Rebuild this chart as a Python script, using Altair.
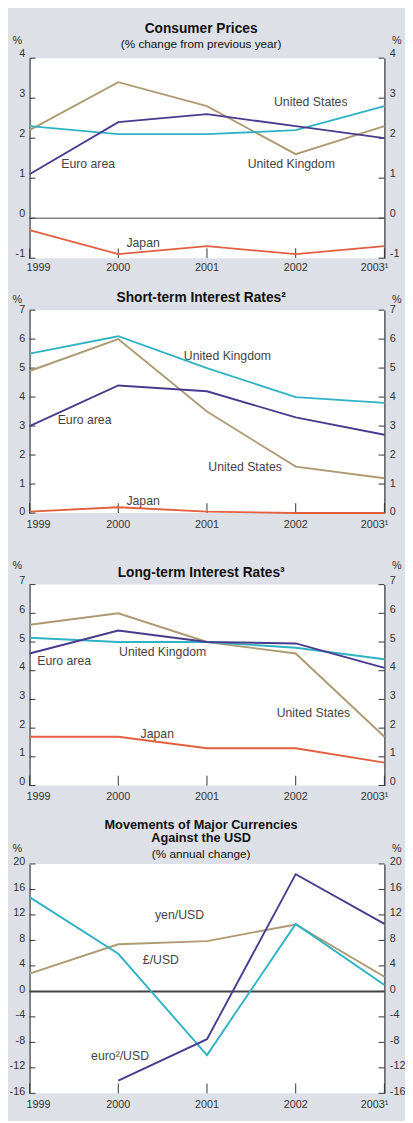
import altair as alt
import pandas as pd

years = [1999, 2000, 2001, 2002, 2003]
year_labels = ["1999", "2000", "2001", "2002", "2003¹"]

# Consumer prices (% change from previous year)
cp_us = [2.2, 3.4, 2.8, 1.6, 2.3]
cp_uk = [2.3, 2.1, 2.1, 2.2, 2.8]
cp_euro = [1.1, 2.4, 2.6, 2.3, 2.0]
cp_japan = [-0.3, -0.9, -0.7, -0.9, -0.7]

# Short-term interest rates
st_us = [4.9, 6.0, 3.5, 1.6, 1.2]
st_uk = [5.5, 6.1, 5.0, 4.0, 3.8]
st_euro = [3.0, 4.4, 4.2, 3.3, 2.7]
st_japan = [0.05, 0.2, 0.05, 0.0, 0.0]

# Long-term interest rates
lt_us = [5.6, 6.0, 5.0, 4.6, 1.7]
lt_uk = [5.15, 5.0, 5.0, 4.8, 4.4]
lt_euro = [4.6, 5.4, 5.0, 4.95, 4.1]
lt_japan = [1.7, 1.7, 1.3, 1.3, 0.8]

# Currencies against the USD (% annual change)
fx_yen = [2.8, 7.4, 7.9, 10.5, 2.3]
fx_gbp = [14.8, 5.9, -10.0, 10.6, 1.0]
fx_euro = [None, -14.0, -7.5, 18.4, 10.6]

ticks_rates = [0, 1, 2, 3, 4, 5, 6, 7]
ticks_cp = [-1, 0, 1, 2, 3, 4]
ticks_fx = [-16, -12, -8, -4, 0, 4, 8, 12, 16, 20]

names4 = ["United States", "United Kingdom", "Euro area", "Japan"]
colors4 = ["#ad9a72", "#2fb3c4", "#4a3a8e", "#e2603f"]
names_fx = ["yen/USD", "£/USD", "euro/USD"]
colors_fx = ["#ad9a72", "#2fb3c4", "#4a3a8e"]

# inline labels: (text, year position, value position)
lab_cp = [("United States", 2002.17, 2.9), ("Euro area", 1999.66, 1.35),
          ("United Kingdom", 2001.95, 1.35), ("Japan", 2000.28, -0.63)]
lab_st = [("United Kingdom", 2001.23, 5.41), ("Euro area", 1999.62, 3.21),
          ("United States", 2001.43, 1.59), ("Japan", 2000.28, 0.41)]
lab_lt = [("Euro area", 1999.39, 4.34), ("United Kingdom", 2000.50, 4.64),
          ("United States", 2002.20, 2.53), ("Japan", 2000.44, 1.81)]
lab_fx = [("yen/USD", 2000.69, 11.9), ("£/USD", 2000.48, 4.84),
          ("euro²/USD", 2000.02, -10.17)]

# panel titles: (text, size, weight, offset above plot top)
ttl_cp = [("Consumer Prices", 14, "bold", -30),
          ("(% change from previous year)", 12, "normal", -14)]
ttl_st = [("Short-term Interest Rates²", 14, "bold", -12)]
ttl_lt = [("Long-term Interest Rates³", 14, "bold", -12)]
ttl_fx = [("Movements of Major Currencies", 13, "bold", -40),
          ("Against the USD", 13, "bold", -26),
          ("(% annual change)", 12, "normal", -10)]

W = 362
TXT = "#333333"
FONT = "Liberation Sans"


def panel(series, names, colors, ydomain, yticks, H, titles, labels,
          pct_y, lab_off, xlab_gap, zero=False, zero_width=1.0,
          bounds_rect=False):
    rows = []
    for name, vals in zip(names, series):
        for y, v in zip(years, vals):
            if v is not None:
                rows.append({"year": y, "value": v, "series": name})
    df = pd.DataFrame(rows)
    xs = alt.Scale(domain=[years[0], years[-1]], nice=False, zero=False)
    ys = alt.Scale(domain=ydomain, nice=False, zero=False)

    xaxis = alt.Axis(values=years, ticks=False, grid=False, labels=False,
                     domainColor="#333", domainWidth=1.2, title=None)

    def yaxis(orient, tx):
        return alt.Axis(values=yticks, ticks=False, grid=False, orient=orient,
                        domainColor="#333", domainWidth=1.2,
                        labelFontSize=11, labelColor=TXT, labelPadding=5,
                        labelOffset=lab_off, labelFont=FONT,
                        labelExpr="'' + datum.value",
                        title="%", titleAngle=0, titleX=tx, titleY=pct_y,
                        titleAlign="center", titleBaseline="alphabetic",
                        titleFontSize=11, titleFontWeight="normal",
                        titleColor=TXT, titleFont=FONT)

    tdf = pd.DataFrame({"t": yticks})
    left = alt.Chart(tdf).mark_rule(color="#333", strokeWidth=1).encode(
        y=alt.Y("t:Q", scale=ys, axis=yaxis("left", -13)),
        x=alt.value(0), x2=alt.value(6))
    right = alt.Chart(tdf).mark_rule(color="#333", strokeWidth=1).encode(
        y=alt.Y("t:Q", scale=ys, axis=yaxis("right", 12)),
        x=alt.value(W - 6), x2=alt.value(W))
    xdf = pd.DataFrame({"year": years, "lab": year_labels,
                        "pos": ["first", "mid", "mid", "mid", "last"]})
    xt = alt.Chart(xdf).mark_rule(color="#333", strokeWidth=1).encode(
        x=alt.X("year:Q", scale=xs, axis=xaxis),
        y=alt.value(H), y2=alt.value(H - 10))

    layers = [left, right, xt]
    for pos, align, dx in [("first", "left", -3), ("mid", "center", 0),
                           ("last", "right", 4)]:
        layers.append(alt.Chart(xdf).transform_filter(
            alt.datum.pos == pos).mark_text(
            align=align, baseline="middle", dx=dx, fontSize=11, color=TXT,
            font=FONT).encode(
            x=alt.X("year:Q", scale=xs, axis=None),
            y=alt.value(H + xlab_gap), text="lab:N"))

    if zero:
        layers.append(alt.Chart(pd.DataFrame({"z": [0]})).mark_rule(
            color="#444", strokeWidth=zero_width).encode(
            y=alt.Y("z:Q", scale=ys, axis=None)))

    lines = alt.Chart(df).mark_line(strokeWidth=1.9).encode(
        x=alt.X("year:Q", scale=xs, axis=None),
        y=alt.Y("value:Q", scale=ys, axis=None),
        color=alt.Color("series:N", scale=alt.Scale(domain=names, range=colors),
                        legend=None))
    layers.append(lines)

    ldf = pd.DataFrame(labels, columns=["label", "year", "value"])
    texts = alt.Chart(ldf).mark_text(fontSize=12.5, color="#444",
                                     font=FONT).encode(
        x=alt.X("year:Q", scale=xs, axis=None),
        y=alt.Y("value:Q", scale=ys, axis=None),
        text="label:N")
    layers.append(texts)

    for text, size, weight, off in titles:
        layers.append(alt.Chart(pd.DataFrame({"t": [text]})).mark_text(
            fontSize=size, fontWeight=weight, color="#111", font=FONT,
            align="center", baseline="middle").encode(
            x=alt.value(W / 2 - 6), y=alt.value(off), text="t:N"))

    if bounds_rect:
        layers.append(alt.Chart(pd.DataFrame({"a": [0]})).mark_rect(
            opacity=0).encode(x=alt.value(-22), x2=alt.value(W + 21),
                              y=alt.value(-40), y2=alt.value(-39)))

    return alt.layer(*layers).resolve_axis(y="independent").properties(
        width=W, height=H,
        view=alt.ViewBackground(fill="white", stroke="transparent"))


def spacer(h):
    return alt.Chart(pd.DataFrame({"a": [0]})).mark_point(opacity=0).encode(
        x=alt.value(0), y=alt.value(0)).properties(width=W, height=h)


p1 = panel([cp_us, cp_uk, cp_euro, cp_japan], names4, colors4, [-1, 4],
           ticks_cp, 204, ttl_cp, lab_cp, -15, -5, 10, zero=True,
           zero_width=1.0, bounds_rect=True)
p2 = panel([st_us, st_uk, st_euro, st_japan], names4, colors4, [0, 7],
           ticks_rates, 207, ttl_st, lab_st, -8, -1, 12)
p3 = panel([lt_us, lt_uk, lt_euro, lt_japan], names4, colors4, [0, 7],
           ticks_rates, 205, ttl_lt, lab_lt, -16, -4, 12)
p4 = panel([fx_yen, fx_gbp, fx_euro], names_fx, colors_fx, [-16, 20],
           ticks_fx, 234, ttl_fx, lab_fx, -13, -2, 12, zero=True,
           zero_width=2.0)

chart = alt.vconcat(p1, spacer(53), p2, spacer(73), p3, spacer(80), p4,
                    spacing=0, bounds="flush").properties(
    padding=0, background="#dde0e7").configure(
    font=FONT).configure_view(strokeWidth=0)

chart.save("out.html", embed_options={"renderer": "svg", "actions": False})
